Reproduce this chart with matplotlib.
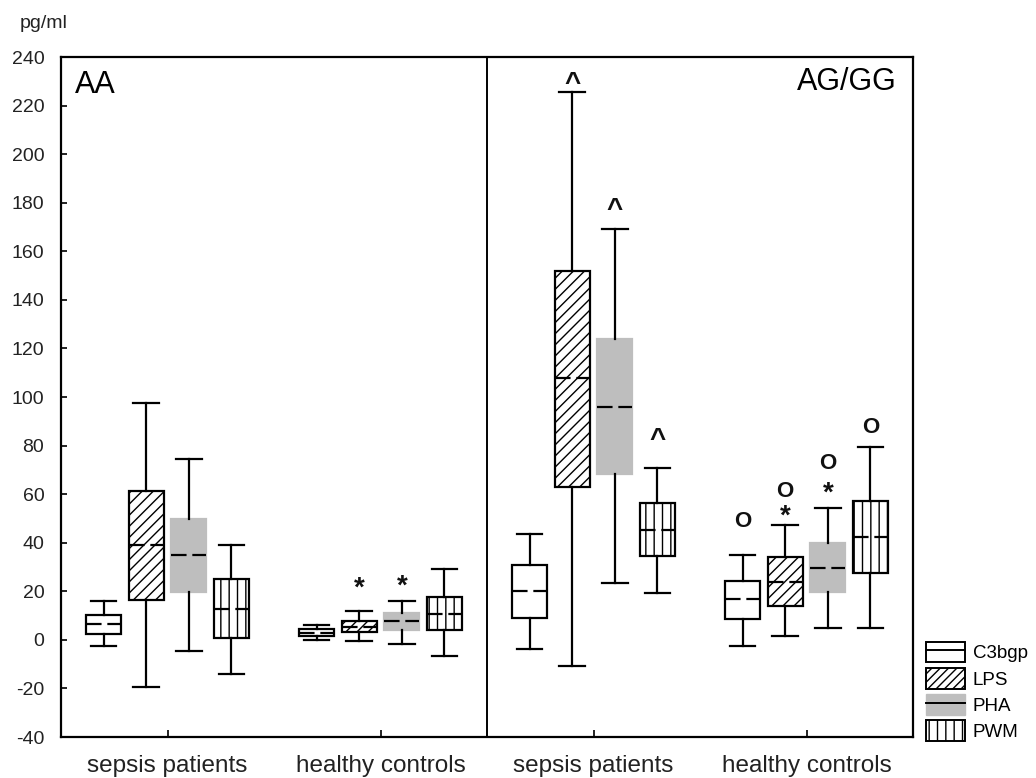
import matplotlib
matplotlib.use("Agg")
import matplotlib.pyplot as plt
from matplotlib.patches import Patch
from matplotlib.lines import Line2D

plt.rcParams['font.family'] = ['Liberation Sans', 'DejaVu Sans']
plt.rcParams['hatch.linewidth'] = 1.0
plt.rcParams['axes.unicode_minus'] = False

# ---- data ----
group_labels = ['sepsis patients', 'healthy controls', 'sepsis patients', 'healthy controls']
genotypes = ['AA', 'AG/GG']
stimuli = ['C3bgp', 'LPS', 'PHA', 'PWM']

c3bgp_whishi = [16, 6, 43.7, 34.8]
c3bgp_q3 = [10.1, 4.5, 30.7, 24.1]
c3bgp_med = [6.6, 2.9, 20, 16.7]
c3bgp_q1 = [2.5, 1.6, 9.1, 8.4]
c3bgp_whislo = [-2.4, 0.1, -3.9, -2.4]

lps_whishi = [97.4, 11.8, 225.4, 47.1]
lps_q3 = [61.2, 7.6, 151.9, 34]
lps_med = [39.1, 5.4, 107.8, 23.9]
lps_q1 = [16.5, 3.2, 62.8, 13.9]
lps_whislo = [-19.5, -0.6, -10.6, 1.7]

pha_whishi = [74.3, 15.9, 169.2, 54.5]
pha_q3 = [49.9, 11.1, 123.9, 39.8]
pha_med = [34.8, 7.9, 95.9, 29.7]
pha_q1 = [19.7, 4.1, 68.2, 19.8]
pha_whislo = [-4.7, -1.6, 23.3, 5]

pwm_whishi = [38.9, 29, 70.9, 79.3]
pwm_q3 = [24.9, 17.5, 56.2, 57.1]
pwm_med = [12.6, 10.8, 45.4, 42.4]
pwm_q1 = [0.9, 4.2, 34.7, 27.4]
pwm_whislo = [-13.9, -6.5, 19.2, 5]

# significance marks: symbol, group index, stimulus index, baseline value
ann_text = ['*', '*', '^', '^', '^', 'O', 'O', '*', 'O', '*', 'O']
ann_group = [1, 1, 2, 2, 2, 3, 3, 3, 3, 3, 3]
ann_stim = [1, 2, 1, 2, 3, 0, 1, 1, 2, 2, 3]
ann_y = [18.2, 19.2, 226.2, 174, 79.4, 46.6, 58.7, 47.9, 70.2, 57.3, 85]

yticks = list(range(-40, 241, 20))

# ---- styles ----
series = [
    (c3bgp_whislo, c3bgp_q1, c3bgp_med, c3bgp_q3, c3bgp_whishi),
    (lps_whislo, lps_q1, lps_med, lps_q3, lps_whishi),
    (pha_whislo, pha_q1, pha_med, pha_q3, pha_whishi),
    (pwm_whislo, pwm_q1, pwm_med, pwm_q3, pwm_whishi),
]
face = ['white', 'white', '#bebebe', 'white']
edge = ['black', 'black', '#bebebe', 'black']
hatch = [None, '///', None, '||']
offsets = [-0.3, -0.1, 0.1, 0.3]
group_pos = [0.5, 1.5, 2.5, 3.5]

fig = plt.figure(figsize=(10.36, 7.78), dpi=100)
ax = fig.add_axes([61 / 1036, 1 - 737 / 778, 852 / 1036, 680 / 778])

lw = 1.6
for si, (lo, q1, med, q3, hi) in enumerate(series):
    stats = []
    pos = []
    for gi in range(4):
        stats.append(dict(whislo=lo[gi], q1=q1[gi], med=med[gi], q3=q3[gi],
                          whishi=hi[gi], fliers=[]))
        pos.append(group_pos[gi] + offsets[si])
    art = ax.bxp(stats, positions=pos, widths=0.165, capwidths=0.12,
                 patch_artist=True, showfliers=False,
                 boxprops=dict(linewidth=lw),
                 whiskerprops=dict(color='black', linewidth=lw),
                 capprops=dict(color='black', linewidth=lw),
                 medianprops=dict(color='black', linewidth=lw,
                                  linestyle=(0, (7.0, 2.6))))
    for b in art['boxes']:
        b.set_facecolor(face[si])
        b.set_edgecolor(edge[si])
        if hatch[si]:
            b.set_hatch(hatch[si])
        b.set_zorder(2)

for t, g, s, y in zip(ann_text, ann_group, ann_stim, ann_y):
    fs = {'^': 20, 'O': 16, '*': 20}[t]
    ax.text(group_pos[g] + offsets[s], y, t, ha='center', va='baseline',
            fontsize=fs, fontweight='bold', color='#111111')

ax.axvline(2, color='black', linewidth=1.4)
ax.set_xlim(0, 4)
ax.set_ylim(-40, 240)
ax.set_yticks(yticks)
ax.set_xticks(group_pos)
ax.set_xticklabels(group_labels, fontsize=17.5)
ax.tick_params(axis='y', direction='in', length=4, width=1.4, labelsize=14,
               pad=12, colors='#222222')
ax.tick_params(axis='x', direction='in', length=5, width=1.4, pad=13,
               colors='#222222')
for sp in ax.spines.values():
    sp.set_linewidth(1.6)

ax.text(0.0165, 0.947, genotypes[0], transform=ax.transAxes, fontsize=22,
        ha='left', va='baseline')
ax.text(0.981, 0.951, genotypes[1], transform=ax.transAxes, fontsize=22,
        ha='right', va='baseline')

fig.text(20 / 1036, 1 - 28 / 778, 'pg/ml', fontsize=14, ha='left',
         va='baseline', color='#222222')

handles = [
    (Patch(facecolor='white', edgecolor='black', linewidth=1.4),
     Line2D([], [], color='black', linewidth=1.4)),
    Patch(facecolor='white', edgecolor='black', hatch='////', linewidth=1.4),
    (Patch(facecolor='#bebebe', edgecolor='#bebebe'),
     Line2D([], [], color='black', linewidth=1.4)),
    Patch(facecolor='white', edgecolor='black', hatch='||', linewidth=1.4),
]
fig.legend(handles, stimuli, loc='upper left',
           bbox_to_anchor=(926 / 1036, 1 - 642 / 778),
           frameon=False, fontsize=13.5, borderpad=0, borderaxespad=0,
           handlelength=2.1, handleheight=1.3, labelspacing=0.3,
           handletextpad=0.4)

fig.savefig('out.png', dpi=100)
